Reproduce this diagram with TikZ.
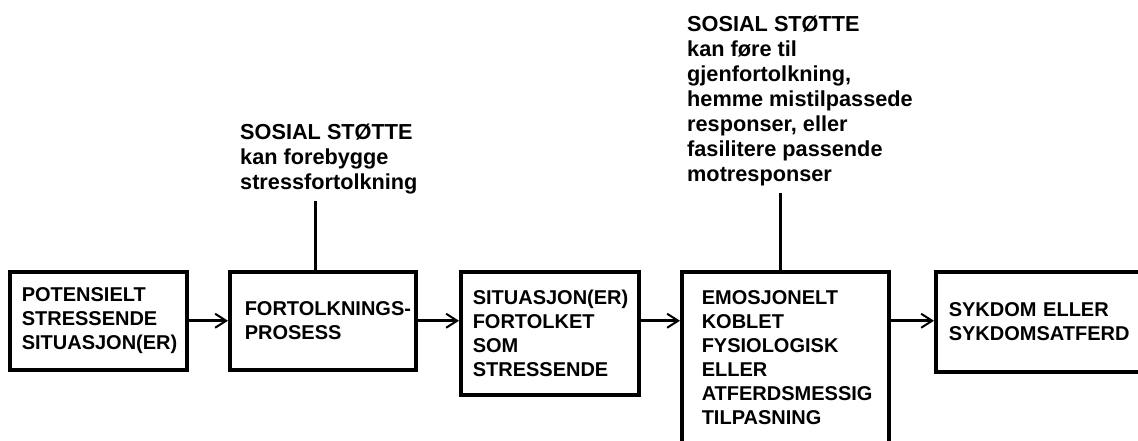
\documentclass[tikz,border=0pt]{standalone}
\usepackage{fontspec}
\setmainfont{Liberation Sans}
\usepackage{tikz}
\usetikzlibrary{arrows.meta,positioning}

\begin{document}
\begin{tikzpicture}[x=1pt, y=-1pt, node distance=39.5pt, every node/.style={font=\bfseries\fontsize{20}{24}\selectfont}, box/.style={draw, line width=3.5pt, align=left, inner ysep=0pt, anchor=north west}, note/.style={align=left, inner xsep=0pt, inner ysep=6pt, anchor=north west, font=\bfseries\fontsize{21.7}{25}\selectfont}, arr/.style={-{Straight Barb[length=11pt,width=14pt,line width=2pt]}, line width=3pt}, link/.style={line width=3pt}]
\useasboundingbox (0,0) rectangle (1138,441);
\clip (0,0) rectangle (1138,441);
\node[box, text width=153pt, inner xsep=12pt, minimum height=98pt] (potensiell) at (8,270) {POTENSIELT\\STRESSENDE\\SITUASJON(ER)};
\node[box, text width=156pt, inner xsep=15pt, minimum height=98pt, right=of potensiell.north east, anchor=north west] (prosess) {\mbox{FORTOLKNINGS-}\\PROSESS};
\node[box, text width=154pt, inner xsep=12pt, minimum height=123pt, right=41.5pt of prosess.north east, anchor=north west] (fortolket) {SITUASJON(ER)\\FORTOLKET\\SOM\\STRESSENDE};
\node[box, text width=167pt, inner xsep=20pt, minimum height=172pt, right=of fortolket.north east, anchor=north west] (tilpasning) {EMOSJONELT\\KOBLET\\FYSIOLOGISK\\ELLER\\\mbox{ATFERDSMESSIG}\\TILPASNING};
\node[box, text width=188pt, inner xsep=13pt, minimum height=100pt, right=43.5pt of tilpasning.north east, anchor=north west] (sykdom) {SYKDOM ELLER\\SYKDOMSATFERD};
\node[note] (forebygge) at (240,118) {SOSIAL STØTTE\\kan forebygge\\stressfortolkning};
\node[note] (motrespons) at (687,10) {SOSIAL STØTTE\\kan føre til\\gjenfortolkning,\\hemme mistilpassede\\responser, eller\\fasilitere passende\\motresponser};
% arrows along the chain
\draw[arr] (potensiell) -- (prosess);
\draw[arr] (prosess.east) -- (prosess.east -| fortolket.west);
\draw[arr] (prosess.east -| fortolket.east) -- (prosess.east -| tilpasning.west);
\draw[arr] (prosess.east -| tilpasning.east) -- (prosess.east -| sykdom.west);
% social support lines
\draw[link] ([xshift=-7pt]prosess.north) -- ([xshift=-7pt]prosess.north |- forebygge.south);
\draw[link] ([xshift=-4.5pt]tilpasning.north) -- ([xshift=-4.5pt]tilpasning.north |- motrespons.south);
\end{tikzpicture}
\end{document}
